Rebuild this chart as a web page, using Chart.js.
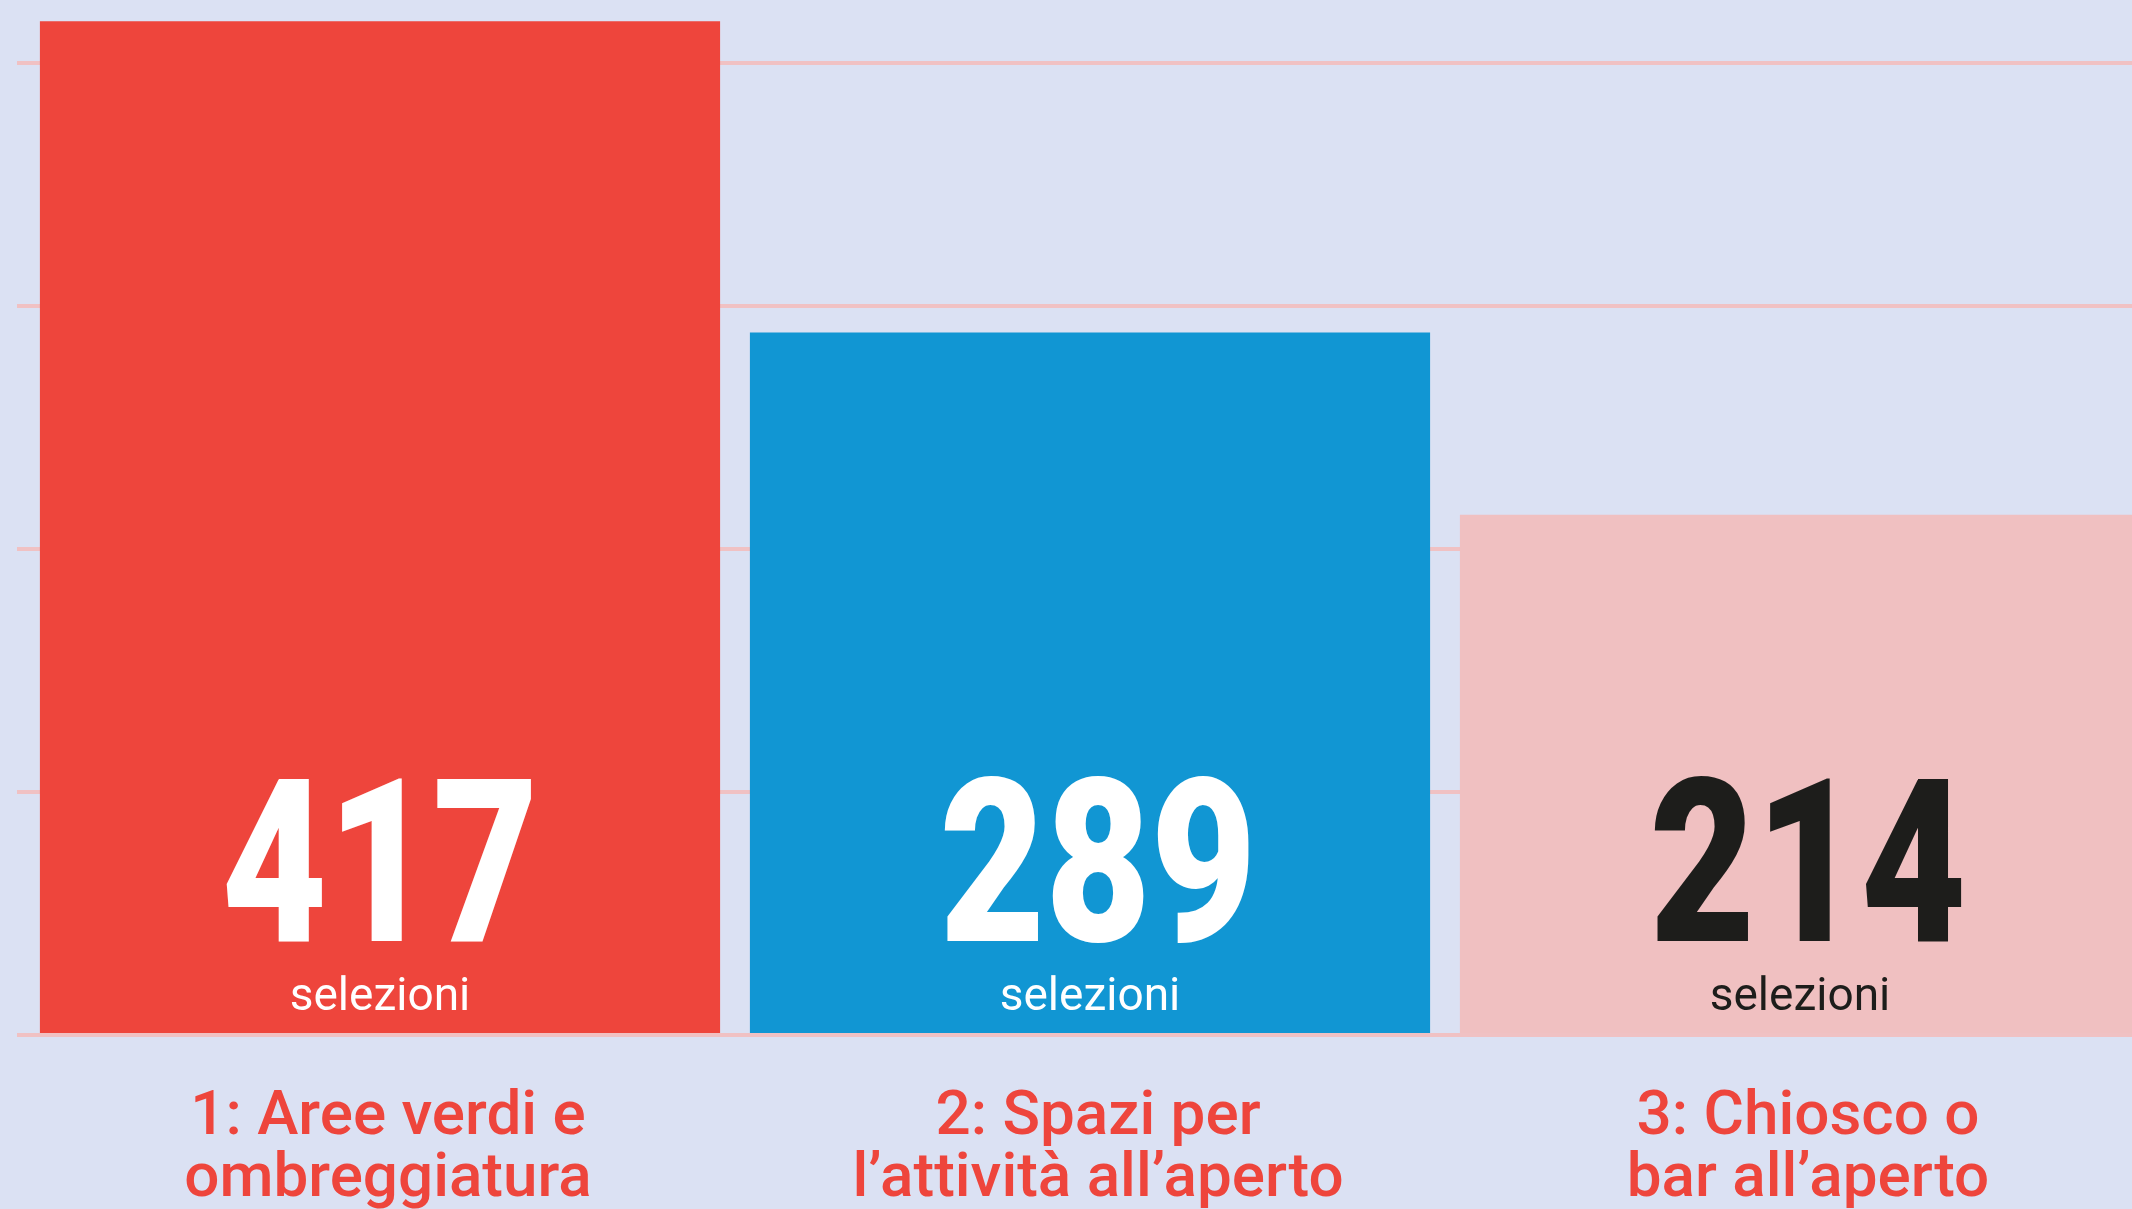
<!DOCTYPE html>
<html>
<head>
<meta charset="utf-8">
<script src="https://cdn.jsdelivr.net/npm/chart.js@4.4.1/dist/chart.umd.min.js"></script>
<style>
  html, body { margin: 0; padding: 0; background: #dbe1f3; overflow: hidden; width: 2132px; height: 1209px; }
  #wrap { position: absolute; left: 0; top: 0; width: 2170px; height: 1263px; }
</style>
</head>
<body>
<div id="wrap"><canvas id="c" width="2170" height="1263"></canvas></div>
<script>
// ---- data ----
const categories = [
  ["1: Aree verdi e", "ombreggiatura"],
  ["2: Spazi per", "l’attività all’aperto"],
  ["3: Chiosco o", "bar all’aperto"]
];
const selections = [417, 289, 214];
const unitLabel = "selezioni";
const barColors = ["#ee453c", "#1196d3", "#f0c0c1"];
const valueTextColors = ["#ffffff", "#ffffff", "#1d1d1b"];
const yTickStep = 100;
const yMax = 420;

const valueLabels = {
  id: 'valueLabels',
  afterDatasetsDraw(chart) {
    const ctx = chart.ctx;
    const meta = chart.getDatasetMeta(0);
    meta.data.forEach((bar, i) => {
      const base = bar.base;
      ctx.save();
      ctx.textAlign = 'center';
      ctx.textBaseline = 'alphabetic';
      ctx.fillStyle = valueTextColors[i];
      ctx.save();
      ctx.translate(bar.x + (i > 0 ? 8 : 0), base - 92);
      ctx.scale(0.8, 1);
      ctx.font = "900 228px Roboto, 'DejaVu Sans', sans-serif";
      ctx.fillText(String(selections[i]), 0, 0);
      ctx.restore();
      ctx.font = "400 46px Roboto, sans-serif";
      ctx.fillText(unitLabel, bar.x, base - 23);
      ctx.restore();
    });
  }
};

new Chart(document.getElementById('c'), {
  type: 'bar',
  data: {
    labels: categories,
    datasets: [{
      data: selections,
      backgroundColor: barColors,
      borderWidth: 0,
      barPercentage: 0.958,
      categoryPercentage: 1.0
    }]
  },
  options: {
    responsive: false,
    animation: false,
    devicePixelRatio: 1,
    layout: { padding: { left: 17, right: 15, top: 14, bottom: 0 } },
    plugins: { legend: { display: false }, tooltip: { enabled: false } },
    scales: {
      x: {
        grid: { display: false, drawTicks: false },
        border: { display: false },
        ticks: {
          color: '#ee453c',
          padding: 52,
          labelOffset: 8,
          maxRotation: 0,
          autoSkip: false,
          font: { family: 'Roboto', size: 62, weight: '500', lineHeight: 1.0 }
        }
      },
      y: {
        min: 0,
        max: yMax,
        border: { display: false },
        grid: {
          lineWidth: 4,
          drawTicks: true,
          tickLength: 8,
          color: (c) => (c.tick && c.tick.value % yTickStep === 0) ? '#f0c1c3' : 'rgba(0,0,0,0)'
        },
        ticks: { display: false, stepSize: yTickStep }
      }
    }
  },
  plugins: [valueLabels]
});
</script>
</body>
</html>
